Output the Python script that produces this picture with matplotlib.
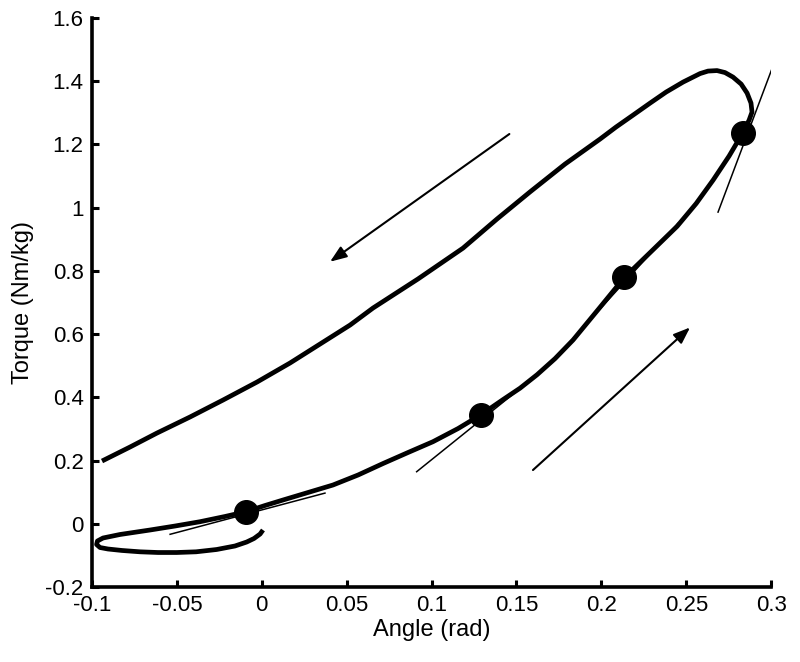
import matplotlib.pyplot as plt

plt.rcParams['font.family'] = ['Liberation Sans', 'DejaVu Sans']

# torque-angle loop (in time order)
angle = [0.0007, -0.0010, -0.0046, -0.0089, -0.0158, -0.0266, -0.0387, -0.0501,
         -0.0611, -0.0717, -0.0823, -0.0906, -0.0953, -0.0973, -0.0968, -0.0935,
         -0.0835, -0.0658, -0.0511, -0.0364, -0.0217, -0.0093,
         0.0019, 0.0125, 0.0272, 0.0419, 0.0567, 0.0714, 0.0861, 0.1008,
         0.1156, 0.1291, 0.1421, 0.1521, 0.1621, 0.1727, 0.1833, 0.1986,
         0.2136, 0.2287, 0.2446, 0.2558, 0.2658, 0.2752, 0.2833, 0.2870,
         0.2887, 0.2881, 0.2858, 0.2823, 0.2775, 0.2728, 0.2681, 0.2628,
         0.2581, 0.2481, 0.2381, 0.2287, 0.2187, 0.2086, 0.1992, 0.1786,
         0.1580, 0.1385, 0.1185, 0.0920, 0.0655, 0.0520, 0.0343, 0.0166,
         -0.0028, -0.0228, -0.0423, -0.0617, -0.0776, -0.0941]
torque = [-0.0197, -0.0324, -0.0466, -0.0577, -0.0703, -0.0814, -0.0887, -0.0909,
          -0.0909, -0.0887, -0.0845, -0.0798, -0.0751, -0.0656, -0.0545, -0.0450,
          -0.0339, -0.0197, -0.0071, 0.0065, 0.0230, 0.0382,
          0.0578, 0.0752, 0.0989, 0.1226, 0.1543, 0.1906, 0.2254, 0.2596,
          0.3013, 0.3450, 0.3930, 0.4290, 0.4715, 0.5225, 0.5813, 0.6810,
          0.7796, 0.8580, 0.9410, 1.0130, 1.0873, 1.1633, 1.2370, 1.2771,
          1.3024, 1.3309, 1.3625, 1.3910, 1.4131, 1.4274, 1.4337, 1.4321,
          1.4242, 1.3973, 1.3657, 1.3309, 1.2930, 1.2550, 1.2170, 1.1380,
          1.0500, 0.9640, 0.8720, 0.7745, 0.6825, 0.6287, 0.5686, 0.5085,
          0.4484, 0.3915, 0.3377, 0.2871, 0.2428, 0.1985]

# marked points on the loading branch
dot_angle = [-0.0093, 0.1291, 0.2136, 0.2833]
dot_torque = [0.0382, 0.3450, 0.7796, 1.2370]

# tangent (stiffness) lines: (x0, x1), (y0, y1)
tangents = [
    ((-0.0540, 0.0372), (-0.0333, 0.0970)),
    ((0.0912, 0.1630), (0.1647, 0.4750)),
    ((0.1820, 0.2450), (0.5780, 0.9500)),
    ((0.2687, 0.3035), (0.9860, 1.4830)),
]

# direction arrows: (tail, tip)
arrows = [
    ((0.1458, 1.233), (0.0402, 0.829)),
    ((0.1597, 0.170), (0.2522, 0.621)),
]

fig = plt.figure(figsize=(8, 6.62), dpi=100)
ax = fig.add_axes([0.115, 0.1133, 0.849, 0.8595])

ax.plot(angle, torque, color='black', lw=3.4, solid_capstyle='butt',
        solid_joinstyle='round', zorder=3)
for xs, ys in tangents:
    ax.plot(xs, ys, color='black', lw=1.1, zorder=2)
ax.plot(dot_angle, dot_torque, 'o', color='black', ms=17, zorder=4)

for tail, tip in arrows:
    ax.annotate('', xy=tip, xytext=tail,
                arrowprops=dict(arrowstyle='-|>,head_length=1.0,head_width=0.38',
                                color='black', lw=1.5, shrinkA=0, shrinkB=0))

ax.set_xlim(-0.1, 0.3)
ax.set_ylim(-0.2, 1.6)
ax.set_xticks([-0.1, -0.05, 0, 0.05, 0.1, 0.15, 0.2, 0.25, 0.3])
ax.set_xticklabels(['-0.1', '-0.05', '0', '0.05', '0.1', '0.15', '0.2', '0.25', '0.3'])
ax.set_yticks([-0.2, 0, 0.2, 0.4, 0.6, 0.8, 1, 1.2, 1.4, 1.6])
ax.set_yticklabels(['-0.2', '0', '0.2', '0.4', '0.6', '0.8', '1', '1.2', '1.4', '1.6'])

ax.spines['top'].set_visible(False)
ax.spines['right'].set_visible(False)
ax.spines['left'].set_linewidth(2.6)
ax.spines['bottom'].set_linewidth(2.6)
ax.tick_params(direction='in', length=5, width=2.2, labelsize=16, pad=6)

ax.set_xlabel('Angle (rad)', fontsize=17, labelpad=2)
ax.set_ylabel('Torque (Nm/kg)', fontsize=17, labelpad=8)

fig.savefig('out.png', dpi=100)
